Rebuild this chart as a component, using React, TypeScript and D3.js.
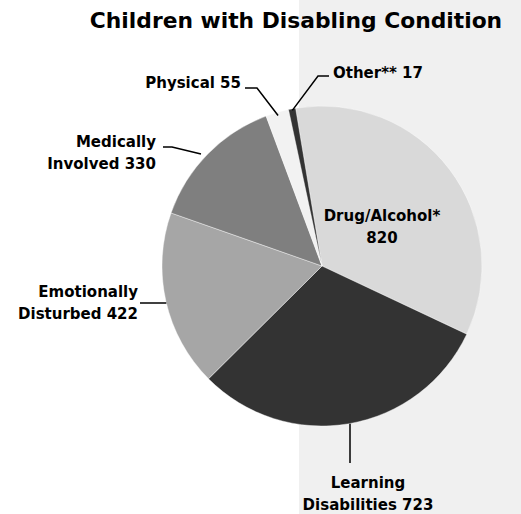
import React from 'react';
import * as d3 from 'd3';

// slice data, clockwise from the Drug/Alcohol slice
const categories = ['Drug/Alcohol*', 'Learning Disabilities', 'Emotionally Disturbed', 'Medically Involved', 'Physical', 'Other**'];
const values = [820, 723, 422, 330, 55, 17];
const sliceColors = ['#d9d9d9', '#333333', '#a6a6a6', '#7f7f7f', '#f2f2f2', '#333333'];

// label lines (text rows) per slice
const labelLines = [
  ['Drug/Alcohol*', '820'],
  ['Learning', 'Disabilities 723'],
  ['Emotionally', 'Disturbed 422'],
  ['Medically', 'Involved 330'],
  ['Physical 55'],
  ['Other** 17'],
];

const W = 521;
const H = 514;
const cx = 322;
const cy = 266;
const R = 160;
const startDeg = -9.5;

const font = '"DejaVu Sans", sans-serif';

const App: React.FC = () => {
  const pie = d3.pie<number>()
    .sort(null)
    .startAngle((startDeg * Math.PI) / 180)
    .endAngle(((startDeg + 360) * Math.PI) / 180);
  const arcs = pie(values);
  const arc = d3.arc<d3.PieArcDatum<number>>().innerRadius(0).outerRadius(R);

  // point on the rim at the middle of a slice, scaled by k
  const rim = (i: number, k = 1): [number, number] => {
    const a = (arcs[i].startAngle + arcs[i].endAngle) / 2;
    return [cx + Math.sin(a) * R * k, cy - Math.cos(a) * R * k];
  };

  const line = d3.line();

  // label anchors and leader paths
  const labels: { x: number; y: number; anchor: string; path: [number, number][] | null }[] = [
    { x: 382, y: 221, anchor: 'middle', path: null },
    { x: 368, y: 488, anchor: 'middle', path: [[350, rim(1)[1]], [350, 463]] },
    { x: 138, y: 297, anchor: 'end', path: [[140, 303], [cx - Math.sqrt(R * R - 37 * 37), 303]] },
    { x: 156, y: 147, anchor: 'end', path: [[163, 147], [172, 147], [201, 154]] },
    { x: 241, y: 88, anchor: 'end', path: [[245, 88], [257, 88], rim(4, 0.98)] },
    { x: 333, y: 78, anchor: 'start', path: [[329, 76], [318, 76], rim(5, 0.99)] },
  ];

  return (
    <svg width={W} height={H} style={{ position: 'absolute', left: 0, top: 0 }} fontFamily={font}>
      <rect x={0} y={0} width={W} height={H} fill="#ffffff" />
      <rect x={299} y={0} width={W - 299} height={H} fill="#f0f0f0" />
      <text x={296} y={28} textAnchor="middle" fontSize={21.8} fontWeight="bold" fill="#000">
        Children with Disabling Condition
      </text>
      <g transform={`translate(${cx},${cy})`}>
        {arcs.map((d, i) => (
          <path key={categories[i]} d={arc(d) ?? ''} fill={sliceColors[i]} stroke="#ffffff" strokeWidth={0.4} />
        ))}
      </g>
      {labels.map((l, i) => (
        <g key={categories[i]}>
          {l.path && <path d={line(l.path) ?? ''} fill="none" stroke="#000" strokeWidth={1.5} />}
          {labelLines[i].map((t, j) => (
            <text key={t} x={l.x} y={l.y + j * 22} textAnchor={l.anchor as any}
              fontSize={15} fontWeight="bold" fill="#000">
              {t}
            </text>
          ))}
        </g>
      ))}
    </svg>
  );
};

export default App;
